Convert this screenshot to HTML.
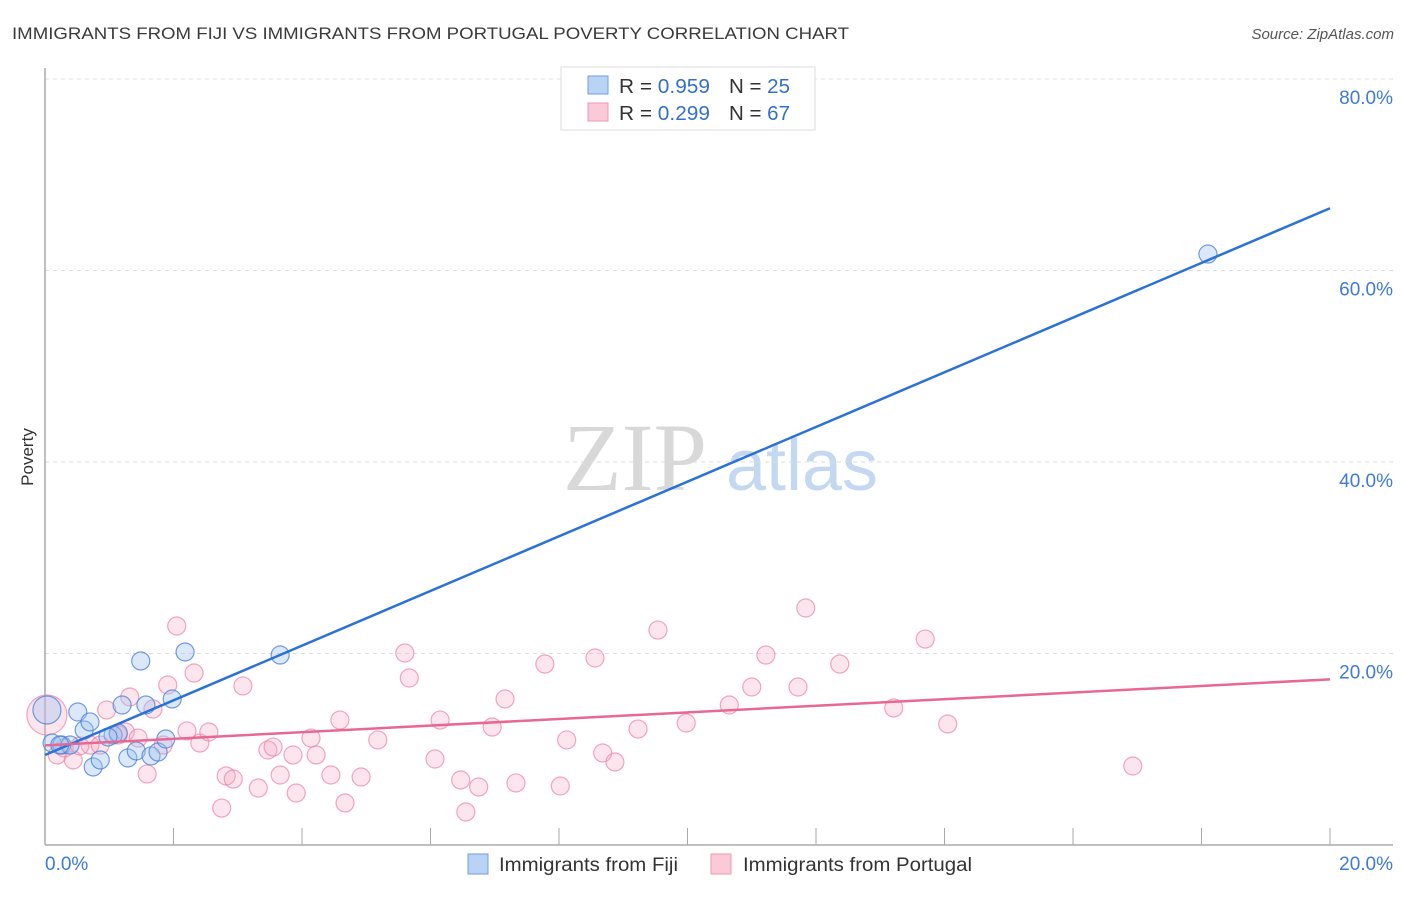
<!DOCTYPE html>
<html><head><meta charset="utf-8"><style>
body{margin:0;background:#fff;font-family:"Liberation Sans",sans-serif;}
</style></head><body>
<svg width="1406" height="892" xmlns="http://www.w3.org/2000/svg" id="chart">
<text x="12" y="39" font-size="17" fill="#3a3a3a" textLength="837" lengthAdjust="spacingAndGlyphs">IMMIGRANTS FROM FIJI VS IMMIGRANTS FROM PORTUGAL POVERTY CORRELATION CHART</text>
<text x="1394" y="39" font-size="15" fill="#555" font-style="italic" text-anchor="end">Source: ZipAtlas.com</text>
<text x="0" y="0" transform="translate(33,457) rotate(-90)" font-size="17" fill="#333" text-anchor="middle">Poverty</text>
<g>
<text x="635" y="490" font-family="Liberation Serif,serif" font-size="96" fill="#d8d8d8" text-anchor="middle">ZIP</text>
<text x="802" y="490" font-size="72" fill="#c5d8f2" text-anchor="middle">atlas</text>
</g>
<g id="grid"></g>
<g id="axes"></g>
<g id="points"></g>
<g id="lines"></g>
<g>
<rect x="561" y="67" width="254" height="63" fill="#fff" stroke="#ddd"/>
<rect x="588" y="76" width="20" height="18" fill="#b9d3f5" stroke="#6f9fdf"/>
<rect x="588" y="103" width="20" height="18" fill="#fbc9d8" stroke="#ef98b3"/>
<text x="619" y="93" font-size="20" fill="#333" textLength="91" lengthAdjust="spacingAndGlyphs">R = <tspan fill="#3370cc">0.959</tspan></text>
<text x="729" y="93" font-size="20" fill="#333" textLength="61" lengthAdjust="spacingAndGlyphs">N = <tspan fill="#3370cc">25</tspan></text>
<text x="619" y="120" font-size="20" fill="#333" textLength="91" lengthAdjust="spacingAndGlyphs">R = <tspan fill="#3370cc">0.299</tspan></text>
<text x="729" y="120" font-size="20" fill="#333" textLength="61" lengthAdjust="spacingAndGlyphs">N = <tspan fill="#3370cc">67</tspan></text>
</g>
<g>
<rect x="468" y="854" width="20" height="20" fill="#b9d3f5" stroke="#6f9fdf"/>
<text x="499" y="871" font-size="19" fill="#333" textLength="179" lengthAdjust="spacingAndGlyphs">Immigrants from Fiji</text>
<rect x="711" y="854" width="20" height="20" fill="#fbc9d8" stroke="#ef98b3"/>
<text x="743" y="871" font-size="19" fill="#333" textLength="229" lengthAdjust="spacingAndGlyphs">Immigrants from Portugal</text>
</g>
</svg>
<script>
const fijiX=[0.03,0.11,0.26,0.39,0.51,0.61,0.70,0.75,0.86,1.06,1.20,1.29,1.42,1.49,1.57,1.65,1.76,1.88,1.98,2.18,3.66,18.10,0.23,1.14,0.98];
const fijiY=[14.1,10.65,10.44,10.44,13.89,12.01,12.85,8.15,8.88,11.49,14.62,9.09,9.82,19.22,14.62,9.30,9.71,11.07,15.25,20.16,19.84,61.72,10.44,11.70,11.28];
const portX=[0.03,0.19,0.44,0.70,0.86,0.96,1.14,1.25,1.32,1.45,1.59,1.68,1.84,1.91,2.05,2.21,2.32,2.41,2.55,2.75,2.82,2.93,3.08,3.32,3.47,3.55,3.66,3.86,3.91,4.14,4.22,4.45,4.59,4.67,4.92,5.18,5.60,5.67,6.07,6.15,6.47,6.55,6.75,6.96,7.16,7.33,7.78,8.02,8.12,8.56,8.68,8.87,9.23,9.54,9.98,10.65,11.00,11.22,11.72,11.84,12.37,13.21,13.70,14.05,16.93,0.30,0.54];
const portY=[13.58,9.40,8.88,10.44,10.44,14.10,11.49,11.80,15.46,11.17,7.42,14.20,10.44,16.71,22.87,11.91,17.96,10.65,11.80,3.86,7.21,6.89,16.61,5.95,9.92,10.23,7.31,9.40,5.43,11.17,9.40,7.31,13.05,4.39,7.10,10.97,20.05,17.44,8.98,13.05,6.79,3.45,6.06,12.32,15.25,6.48,18.90,6.16,10.97,19.53,9.61,8.67,12.11,22.45,12.74,14.62,16.50,19.84,16.50,24.75,18.90,14.31,21.51,12.64,8.25,10.13,10.34];
const fijiTrend=[9.4,66.5];
const portTrend=[10.4,17.3];
const yTicks=[20,40,60,80];
const xTickLabels=["0.0%","20.0%"];
const NS="http://www.w3.org/2000/svg";
const X0=45,X1=1330,Y0=845,Y80=79;
const sx=v=>X0+(X1-X0)*v/20;
const sy=v=>Y0-(Y0-Y80)*v/80;
function mk(tag,attrs,parent){const e=document.createElementNS(NS,tag);for(const k in attrs)e.setAttribute(k,attrs[k]);document.getElementById(parent).appendChild(e);return e;}
yTicks.forEach(t=>{
 const l=mk('line',{x1:X0,x2:1393,y1:sy(t),y2:sy(t),stroke:'#ddd','stroke-dasharray':'4,4'},'grid');
 
 
 const tx=mk('text',{x:1393,y:sy(t)+25,'font-size':19,fill:'#3d7bd6','text-anchor':'end'},'grid');
 tx.textContent=t.toFixed(1)+'%';
 
 
});
const ax=mk('line',{x1:X0,x2:X0,y1:68,y2:Y0,stroke:'#aaa','stroke-width':1.5},'axes');


const bx=mk('line',{x1:X0,x2:1393,y1:Y0,y2:Y0,stroke:'#aaa','stroke-width':1.5},'axes');


for(let i=1;i<=10;i++){
 const t=mk('line',{x1:sx(i*2),x2:sx(i*2),y1:828,y2:Y0,stroke:'#aaa'},'axes');
 
 
}
[[0,'start',X0],[20,'end',1393]].forEach((d,i)=>{
 const t=mk('text',{x:d[2],y:870,'font-size':19,fill:'#3d7bd6','text-anchor':d[1]},'axes');
 t.textContent=xTickLabels[i];
 
 
});
portX.forEach((x,i)=>{
 const c=mk('circle',{cx:sx(x),cy:sy(portY[i]),r:i===0?20:9,fill:'rgba(246,170,195,0.3)',stroke:'rgba(236,130,165,0.7)','stroke-width':1.2},'points');
 
 
});
fijiX.forEach((x,i)=>{
 const c=mk('circle',{cx:sx(x),cy:sy(fijiY[i]),r:i===0?14:9,fill:'rgba(160,195,240,0.38)',stroke:'rgba(70,125,215,0.75)','stroke-width':1.2},'points');
 
 
});
const l1=mk('line',{x1:sx(0),y1:sy(fijiTrend[0]),x2:sx(20),y2:sy(fijiTrend[1]),stroke:'#2a72d8','stroke-width':2.5},'lines');


const l2=mk('line',{x1:sx(0),y1:sy(portTrend[0]),x2:sx(20),y2:sy(portTrend[1]),stroke:'#e86894','stroke-width':2.5},'lines');


</script>
</body></html>
